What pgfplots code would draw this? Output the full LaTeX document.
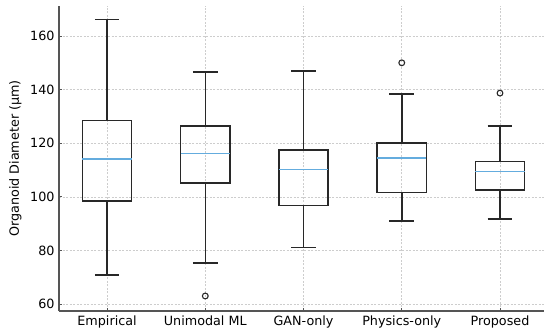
\documentclass[border=0pt]{standalone}
\usepackage{pgfplots}
\pgfplotsset{compat=1.18}
\usepgfplotslibrary{statistics}
\usepackage{fontspec}
\setmainfont{DejaVu Sans}
\definecolor{boxc}{RGB}{40,40,40}
\definecolor{medc}{RGB}{100,172,222}
\definecolor{spinec}{RGB}{85,85,85}
\definecolor{gridc}{RGB}{205,205,205}
\begin{document}
\fontsize{12.8}{15}\selectfont
\begin{tikzpicture}
\begin{axis}[
  scale only axis,
  width=485bp, height=305bp,
  xmin=0.511, xmax=5.448,
  ymin=57.4, ymax=171.2,
  axis lines*=left,
  axis line style={spinec, line width=1.3bp},
  xtick={1,2,3,4,5},
  xticklabels={Empirical,Unimodal ML,GAN-only,Physics-only,Proposed},
  ytick={60,80,100,120,140,160},
  tick align=inside,
  major tick length=3bp,
  tick style={spinec, line width=0.8bp},
  grid=major,
  major grid style={gridc, line width=0.6bp, dash pattern=on 2bp off 1.5bp},
  /pgf/number format/assume math mode=true,
  ticklabel style={font=\fontsize{12.8}{15}\selectfont},
  ylabel={Organoid Diameter (μm)},
  ylabel style={font=\fontsize{12.8}{15}\selectfont},
  boxplot/draw direction=y,
  boxplot/box extend=0.5,
  boxplot/whisker extend=0.25,
  boxplot/every median/.style={draw=medc, line width=1.1bp},
]
\addplot[boxc, line width=1.5bp, mark=o, mark size=2.9bp, mark options={boxc, line width=1.1bp},
  boxplot prepared={draw position=1, lower whisker=70.8, lower quartile=98.5, median=114.1, upper quartile=128.4, upper whisker=166.2}]
  coordinates {};
\addplot[boxc, line width=1.5bp, mark=o, mark size=2.9bp, mark options={boxc, line width=1.1bp},
  boxplot prepared={draw position=2, lower whisker=75.3, lower quartile=105.1, median=116.0, upper quartile=126.5, upper whisker=146.5}]
  table[row sep=\\, y index=0] {y\\ 63.0\\};
\addplot[boxc, line width=1.5bp, mark=o, mark size=2.9bp, mark options={boxc, line width=1.1bp},
  boxplot prepared={draw position=3, lower whisker=81.0, lower quartile=96.7, median=110.1, upper quartile=117.5, upper whisker=146.9}]
  coordinates {};
\addplot[boxc, line width=1.5bp, mark=o, mark size=2.9bp, mark options={boxc, line width=1.1bp},
  boxplot prepared={draw position=4, lower whisker=90.9, lower quartile=101.7, median=114.5, upper quartile=120.0, upper whisker=138.4}]
  table[row sep=\\, y index=0] {y\\ 150.0\\};
\addplot[boxc, line width=1.5bp, mark=o, mark size=2.9bp, mark options={boxc, line width=1.1bp},
  boxplot prepared={draw position=5, lower whisker=91.7, lower quartile=102.6, median=109.5, upper quartile=113.2, upper whisker=126.4}]
  table[row sep=\\, y index=0] {y\\ 138.7\\};
\coordinate (sw) at (rel axis cs:0,0);
\end{axis}
\pgfresetboundingbox
\path (sw) ++(-59bp,-20bp) rectangle ++(544bp,331bp);
\end{tikzpicture}
\end{document}
